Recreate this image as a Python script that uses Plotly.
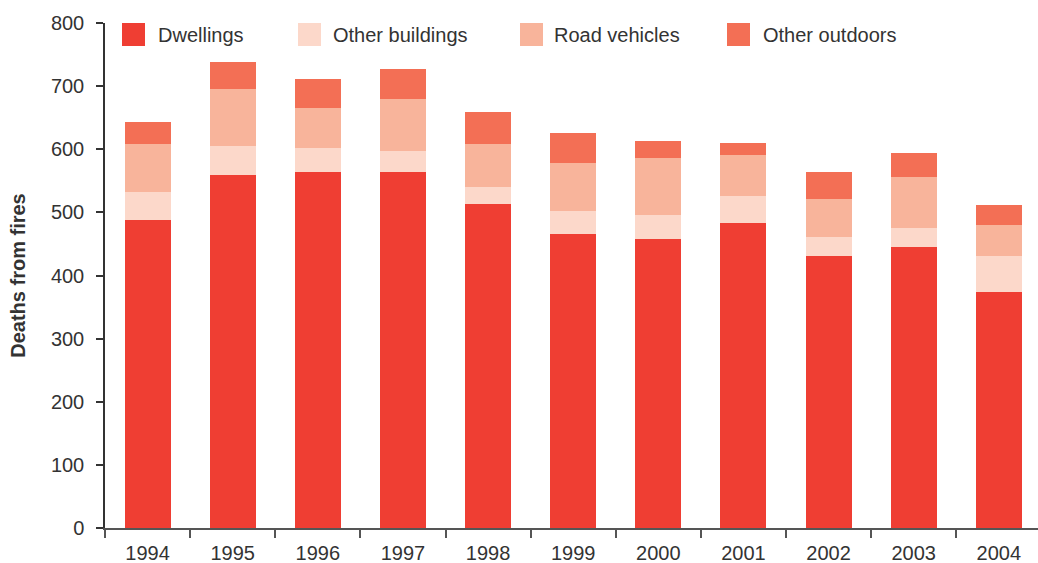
import plotly.graph_objects as go

years = ["1994", "1995", "1996", "1997", "1998", "1999", "2000", "2001", "2002", "2003", "2004"]
dwellings = [488, 559, 564, 564, 513, 466, 458, 483, 431, 445, 374]
other_buildings = [44, 46, 38, 33, 27, 36, 38, 43, 30, 30, 57]
road_vehicles = [76, 90, 63, 83, 68, 76, 90, 65, 60, 81, 49]
other_outdoors = [35, 43, 46, 47, 51, 48, 27, 19, 43, 38, 32]

series_names = ["Dwellings", "Other buildings", "Road vehicles", "Other outdoors"]
series_values = [dwellings, other_buildings, road_vehicles, other_outdoors]
colors = ["#EF3E33", "#FCD8CA", "#F8B49B", "#F36F55"]
y_ticks = [0, 100, 200, 300, 400, 500, 600, 700, 800]

W, H = 1038, 563
L, R, T, B = 105, 0, 23, 35
PW, PH = W - L - R, H - T - B

fig = go.Figure()
for name, vals, col in zip(series_names, series_values, colors):
    fig.add_trace(go.Bar(x=years, y=vals, name=name, marker=dict(color=col, line=dict(width=0)),
                         showlegend=False, hoverinfo="skip"))

# custom legend (squares + labels)
legend_sq_px = [122, 298, 520, 727]
legend_tx_px = [156, 331, 552, 761]
def px_x(p):
    return (p - L) / PW
def px_y(p):
    return (H - B - p) / PH

shapes = []
annotations = []
for name, col, sx, tx in zip(series_names, colors, legend_sq_px, legend_tx_px):
    shapes.append(dict(type="rect", xref="paper", yref="paper",
                       x0=px_x(sx), x1=px_x(sx + 23), y0=px_y(46), y1=px_y(23),
                       fillcolor=col, line=dict(width=0), layer="above"))
    annotations.append(dict(xref="paper", yref="paper", x=px_x(tx), y=px_y(35),
                            text=name, showarrow=False, xanchor="left", yanchor="middle",
                            font=dict(size=20, color="#333333", family="Liberation Sans")))

fig.update_layout(
    width=W, height=H,
    margin=dict(l=L, r=R, t=T, b=B, pad=0, autoexpand=False),
    plot_bgcolor="white", paper_bgcolor="white",
    barmode="stack", bargap=0.46,
    font=dict(family="Liberation Sans", size=20, color="#333333"),
    shapes=shapes, annotations=annotations,
    xaxis=dict(type="category", range=[-0.5, 10.46], showline=True, linecolor="#555555", linewidth=1.5,
               ticks="outside", tickson="boundaries", ticklen=8, tickcolor="#555555", tickwidth=1.5,
               showgrid=False, zeroline=False, ticklabelstandoff=6, automargin=False,
               tickfont=dict(size=20, color="#333333")),
    yaxis=dict(range=[0, 800], tickvals=y_ticks, showline=True, linecolor="#333333", linewidth=1.5,
               ticks="outside", ticklen=7, tickcolor="#333333", tickwidth=1.5,
               showgrid=False, zeroline=False, ticklabelstandoff=8, automargin=False,
               tickfont=dict(size=20, color="#333333"),
               title=dict(text="<b>Deaths from fires</b>", standoff=20,
                          font=dict(size=20, color="#333333", family="Liberation Sans"))),
)

fig.write_html("out.html", config={"displayModeBar": False},
               post_script="document.body.style.margin='0';document.body.style.overflow='hidden';")
